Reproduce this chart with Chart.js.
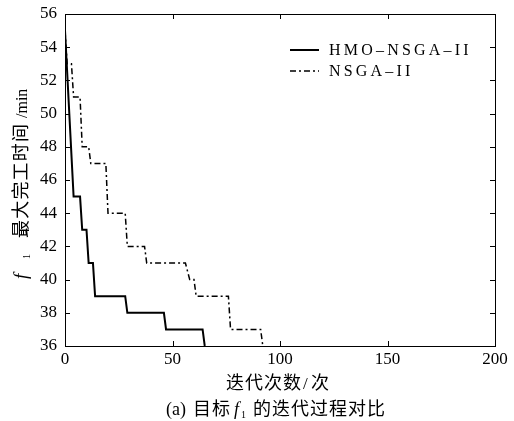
<!DOCTYPE html>
<html>
<head>
<meta charset="utf-8">
<script src="https://cdn.jsdelivr.net/npm/chart.js@4/dist/chart.umd.min.js"></script>
<style>
  html, body { margin: 0; padding: 0; background: #fff; }
  #wrap { width: 514px; height: 421px; }
</style>
</head>
<body>
<div id="wrap"><canvas id="chart" width="514" height="421"></canvas></div>
<script>
// iteration / f1 values
const hmoIter = [0, 4, 7, 8, 10, 11, 13, 14, 28, 29, 46, 47, 64, 65];
const hmoF1 = [55, 45, 45, 43, 43, 41, 41, 39, 39, 38, 38, 37, 37, 36];
const nsgaIter = [0, 1, 3, 4, 7, 8, 11, 12, 19, 20, 28, 29, 37, 38, 56, 58, 60, 61, 76, 77, 91, 92];
const nsgaF1 = [55, 53, 53, 51, 51, 48, 48, 47, 47, 44, 44, 42, 42, 41, 41, 40, 40, 39, 39, 37, 37, 36];
const seriesNames = ['HMO–NSGA–II', 'NSGA–II'];
const xTicks = [0, 50, 100, 150, 200];
const yTicks = [36, 38, 40, 42, 44, 46, 48, 50, 52, 54, 56];

const serif = '"Liberation Serif", "Times New Roman", serif';
const cjk = '"Noto Sans CJK SC", sans-serif';

const toPoints = (xs, ys) => xs.map((x, i) => ({ x: x, y: ys[i] }));

// text pieces placed at their own offsets along the baseline
const drawPieces = (ctx, pieces, x, y) => {
  pieces.forEach((p) => {
    ctx.font = p.font;
    ctx.letterSpacing = (p.spacing || 0) + 'px';
    ctx.fillText(p.text, x + p.at, y + (p.dy || 0));
  });
  ctx.letterSpacing = '0px';
};

const framePlugin = {
  id: 'frame',
  afterDraw(chart) {
    const ctx = chart.ctx;
    const a = chart.chartArea;
    const xs = chart.scales.x;
    const ys = chart.scales.y;
    ctx.save();
    ctx.strokeStyle = '#000';
    ctx.lineWidth = 1;
    ctx.setLineDash([]);
    ctx.strokeRect(Math.round(a.left) + 0.5, Math.round(a.top) + 0.5,
      Math.round(a.right - a.left), Math.round(a.bottom - a.top));

    // inward ticks on all four sides
    const len = 5;
    ctx.beginPath();
    xTicks.forEach((v) => {
      const px = Math.round(xs.getPixelForValue(v)) + 0.5;
      ctx.moveTo(px, a.bottom); ctx.lineTo(px, a.bottom - len);
      ctx.moveTo(px, a.top); ctx.lineTo(px, a.top + len);
    });
    yTicks.forEach((v) => {
      const py = Math.round(ys.getPixelForValue(v)) + 0.5;
      ctx.moveTo(a.left, py); ctx.lineTo(a.left + len, py);
      ctx.moveTo(a.right, py); ctx.lineTo(a.right - len, py);
    });
    ctx.stroke();

    // legend
    chart.data.datasets.forEach((ds, i) => {
      const ly = 50 + i * 21;
      ctx.beginPath();
      ctx.lineWidth = ds.borderWidth;
      ctx.setLineDash(ds.borderDash || []);
      ctx.moveTo(290, ly);
      ctx.lineTo(319, ly);
      ctx.stroke();
      ctx.setLineDash([]);
      ctx.fillStyle = '#000';
      ctx.font = '16px ' + serif;
      ctx.letterSpacing = '3.2px';
      ctx.textBaseline = 'middle';
      ctx.fillText(ds.label, 329, ly + 1);
      ctx.letterSpacing = '0px';
    });

    ctx.fillStyle = '#000';
    ctx.textBaseline = 'alphabetic';

    // x title
    drawPieces(ctx, [
      { text: '迭代次数', font: '18px ' + cjk, spacing: 1, at: 0 },
      { text: '/', font: '17px ' + serif, at: 77 },
      { text: '次', font: '18px ' + cjk, at: 85 }
    ], 226, 389);

    // caption
    drawPieces(ctx, [
      { text: '(a)', font: '18px ' + serif, at: 0 },
      { text: '目标', font: '18px ' + cjk, spacing: 1, at: 27 },
      { text: 'f', font: 'italic 18px ' + serif, at: 68 },
      { text: '1', font: '10px ' + serif, dy: 3, at: 75 },
      { text: '的迭代过程对比', font: '18px ' + cjk, spacing: 1, at: 87 }
    ], 166, 415);

    // y title, rotated
    ctx.translate(27, 283);
    ctx.rotate(-Math.PI / 2);
    drawPieces(ctx, [
      { text: 'f', font: 'italic 19px ' + serif, at: 4 },
      { text: '1', font: '10px ' + serif, dy: 3, at: 24 },
      { text: '最大完工时间', font: '18px ' + cjk, spacing: 1.2, at: 45 },
      { text: '/min', font: '16px ' + serif, at: 165 }
    ], 0, 0);
    ctx.restore();
  }
};

new Chart(document.getElementById('chart'), {
  type: 'line',
  data: {
    datasets: [
      {
        label: seriesNames[0],
        data: toPoints(hmoIter, hmoF1),
        borderColor: '#000',
        borderWidth: 2,
        pointRadius: 0,
        tension: 0,
      },
      {
        label: seriesNames[1],
        data: toPoints(nsgaIter, nsgaF1),
        borderColor: '#000',
        borderWidth: 1.5,
        borderDash: [6, 3, 2, 3],
        pointRadius: 0,
        tension: 0,
      },
    ],
  },
  options: {
    responsive: false,
    animation: false,
    devicePixelRatio: 1,
    layout: { padding: { left: 0, top: 14, right: 19, bottom: 0 } },
    plugins: {
      legend: { display: false },
      tooltip: { enabled: false },
    },
    scales: {
      x: {
        type: 'linear',
        min: 0,
        max: 200,
        afterBuildTicks: (s) => { s.ticks = xTicks.map((v) => ({ value: v })); },
        afterFit: (s) => { s.height = 75; },
        ticks: { color: '#000', font: { family: serif, size: 17 }, padding: 3, maxRotation: 0 },
        grid: { display: false, drawTicks: false },
        border: { display: false },
      },
      y: {
        type: 'linear',
        min: 36,
        max: 56,
        afterBuildTicks: (s) => { s.ticks = yTicks.map((v) => ({ value: v })); },
        afterFit: (s) => { s.width = 65; },
        ticks: { color: '#000', font: { family: serif, size: 17, lineHeight: 0.6 }, padding: 8 },
        grid: { display: false, drawTicks: false },
        border: { display: false },
      },
    },
  },
  plugins: [framePlugin],
});
</script>
</body>
</html>
